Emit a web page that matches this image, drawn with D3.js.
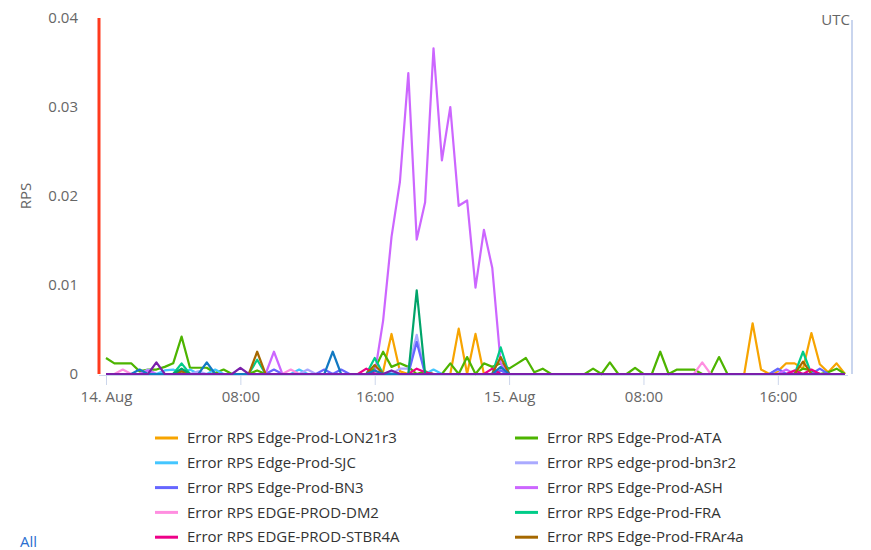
<!DOCTYPE html>
<html lang="en">
<head>
<meta charset="utf-8">
<title>Error RPS</title>
<script src="https://cdn.jsdelivr.net/npm/d3@7"></script>
<style>
  body { margin: 0; background: #fff; font-family: "Open Sans", "Noto Sans", sans-serif; }
  .axis text { fill: #666; font-size: 15px; font-family: "Open Sans", sans-serif; }
  .legend text { fill: #333; font-size: 15px; }
</style>
</head>
<body>
<div id="chart"></div>
<script>
// 30 minute samples from 14 Aug 00:00 UTC to 15 Aug 20:00 UTC
var startTime = Date.UTC(2019, 7, 14, 0, 0);
var stepMinutes = 30;
var yTicks = [0, 0.01, 0.02, 0.03, 0.04];

var lon21r3 = [
  0,0,0,0,0,0,0,0,0,0,
  0,0,0,0,0,0,0,0,0,0,
  0,0,0,0,0,0,0,0,0,0,
  0,0,0,0.0003,0.0045,0.0003,0,0,0,0,
  0,0,0.0051,0,0.0045,0,0,0,0,0,
  0,0,0,0,0,0,0,0,0,0,
  0,0,0,0,0,0,0,0,0,0,
  0,0,0,0,0,0,0,0.0057,0.0005,0,
  0.0003,0.0012,0.0012,0.0006,0.0046,0.0011,0.0002,0.0012,0];
var ata = [
  0.0018,0.0012,0.0012,0.0012,0.0003,0.0005,0.0005,0.0008,0.0012,0.0042,
  0.0007,0.0007,0.0007,0.0001,0.0005,0,0,0,0.0004,0,
  0,0,0,0,0,0,0,0,0,0,
  0,0,0.0006,0.0025,0.0008,0.0012,0.0008,0,0.0003,0,
  0,0.0012,0,0.0019,0,0.0012,0.0008,0.0012,0.0006,0.0012,
  0.0018,0.0002,0.0006,0,0,0,0,0,0.0006,0,
  0.0013,0,0,0.0007,0,0,0.0025,0,0.0005,0.0005,
  0.0005,0,0,0.0019,0,0,0,0,0,0,
  0,0,0,0.0006,0.0004,0,0.0002,0.0006,0];
var sjc = [
  0,0,0,0,0,0,0,0.0004,0.0005,0,
  0.0005,0,0,0.0005,0,0,0,0,0,0,
  0,0,0,0.0005,0,0,0,0,0,0,
  0,0,0,0,0.0003,0,0,0,0,0.0005,
  0,0,0,0,0,0,0,0.0004,0,0,
  0,0,0,0,0,0,0,0,0,0,
  0,0,0,0,0,0,0,0,0,0,
  0,0,0,0,0,0,0,0,0,0,
  0,0,0,0,0,0,0,0,0];
var bn3r2 = [
  0,0,0,0,0,0.0005,0,0,0,0,
  0,0.0003,0,0,0,0,0,0,0,0,
  0,0,0,0,0.0005,0,0,0,0,0,
  0,0,0,0,0,0.0006,0.0006,0.0044,0,0,
  0,0,0,0,0,0,0,0.0006,0,0,
  0,0,0,0,0,0,0,0,0,0,
  0,0,0,0,0,0,0,0,0,0,
  0,0,0,0,0,0,0,0,0,0,
  0.0005,0,0.0004,0,0,0,0,0,0];
var bn3 = [
  0,0,0,0,0,0,0,0,0,0.0005,
  0,0,0,0,0,0,0,0,0,0,
  0.0005,0,0,0,0,0,0.0005,0,0.0005,0,
  0,0,0,0,0,0,0,0.0036,0,0,
  0,0,0,0,0,0,0,0.0004,0,0,
  0,0,0,0,0,0,0,0,0,0,
  0,0,0,0,0,0,0,0,0,0,
  0,0,0,0,0,0,0,0,0,0,
  0.0006,0,0,0,0,0.0006,0,0,0];
var ash = [
  0,0,0,0,0,0.0004,0,0,0,0,
  0,0,0,0,0,0,0,0,0,0,
  0.0025,0,0,0,0,0,0,0,0,0,
  0,0,0,0.0060,0.0154,0.0216,0.0338,0.0151,0.0193,0.0366,
  0.0240,0.0300,0.0189,0.0195,0.0097,0.0162,0.0119,0.0012,0,0,
  0,0,0,0,0,0,0,0,0,0,
  0,0,0,0,0,0,0,0,0,0,
  0,0,0,0,0,0,0,0,0,0,
  0,0.0005,0,0,0,0,0,0,0];
var dm2 = [
  0,0,0.0005,0,0,0,0,0,0,0,
  0,0,0,0,0,0,0,0,0,0,
  0,0,0.0005,0,0,0,0,0,0,0,
  0,0,0,0,0,0,0,0,0,0,
  0,0,0,0,0,0,0,0,0,0,
  0,0,0,0,0,0,0,0,0,0,
  0,0,0,0,0,0,0,0,0,0,
  0,0.0013,0,0,0,0,0,0,0,0,
  0,0,0,0,0,0,0,0,0];
var fra = [
  0,0,0,0,0,0,0,0,0,0.0012,
  0,0,0,0,0,0,0,0,0.0016,0,
  0,0,0,0,0,0,0,0,0,0,
  0,0,0.0018,0,0,0,0,0,0,0,
  0,0,0,0,0,0,0,0.0030,0,0,
  0,0,0,0,0,0,0,0,0,0,
  0,0,0,0,0,0,0,0,0,0,
  0,0,0,0,0,0,0,0,0,0,
  0,0,0,0.0025,0,0,0,0,0];
var stbr4a = [
  0,0,0,0,0,0,0,0,0,0,
  0,0,0,0,0,0,0,0,0,0,
  0,0,0,0,0,0,0,0,0,0,
  0,0.0006,0,0,0,0,0,0.0006,0.0002,0,
  0,0,0,0,0,0,0.0006,0,0,0,
  0,0,0,0,0,0,0,0,0,0,
  0,0,0,0,0,0,0,0,0,0,
  0,0,0,0,0,0,0,0,0,0,
  0,0,0.0004,0,0.0005,0,0,0,0];
var frar4a = [
  0,0,0,0,0,0,0,0,0,0.0003,
  0,0,0,0,0,0,0,0,0.0025,0,
  0,0,0,0,0,0,0,0,0,0,
  0,0,0.0010,0,0,0,0,0,0,0,
  0,0,0,0,0,0,0,0.0019,0,0,
  0,0,0,0,0,0,0,0,0,0,
  0,0,0,0,0,0,0,0,0,0,
  0,0,0,0,0,0,0,0,0,0,
  0,0,0,0.0014,0,0,0,0,0];
// series drawn in the plot whose legend rows are scrolled out of view
var hiddenA = [
  0,0,0,0,0,0,0,0,0,0.0006,
  0,0,0,0,0,0,0,0,0,0,
  0,0,0,0,0,0,0,0,0,0,
  0,0,0,0,0,0,0,0.0094,0,0,
  0,0,0,0,0,0,0,0,0,0,
  0,0,0,0,0,0,0,0,0,0,
  0,0,0,0,0,0,0,0,0,0,
  0,0,0,0,0,0,0,0,0,0,
  0,0,0,0,0,0,0,0,0];
var hiddenB = [
  0,0,0,0,0.0005,0,0,0,0,0,
  0,0,0.0013,0,0,0,0,0,0,0,
  0,0,0,0,0,0,0,0.0025,0,0,
  0,0,0.0004,0,0,0,0,0,0,0,
  0,0,0,0,0,0,0,0.0008,0,0,
  0,0,0,0,0,0,0,0,0,0,
  0,0,0,0,0,0,0,0,0,0,
  0,0,0,0,0,0,0,0,0,0,
  0,0,0,0,0,0,0,0,0];
var hiddenC = [
  0,0,0,0,0,0,0.0013,0,0,0,
  0,0,0,0,0,0,0.0007,0,0,0,
  0,0,0,0,0,0,0,0,0,0,
  0,0,0,0,0.0004,0,0,0,0,0,
  0,0,0,0,0,0,0,0,0,0,
  0,0,0,0,0,0,0,0,0,0,
  0,0,0,0,0,0,0,0,0,0,
  0,0,0,0,0,0,0,0,0,0,
  0,0,0,0,0,0,0,0,0];

var seriesNames = [
  "Error RPS Edge-Prod-LON21r3", "Error RPS Edge-Prod-ATA",
  "Error RPS Edge-Prod-SJC", "Error RPS edge-prod-bn3r2",
  "Error RPS Edge-Prod-BN3", "Error RPS Edge-Prod-ASH",
  "Error RPS EDGE-PROD-DM2", "Error RPS Edge-Prod-FRA",
  "Error RPS EDGE-PROD-STBR4A", "Error RPS Edge-Prod-FRAr4a"];
var seriesValues = [lon21r3, ata, sjc, bn3r2, bn3, ash, dm2, fra, stbr4a, frar4a];
var seriesColors = ["#f7a400", "#4db400", "#44c6ff", "#aaaaff", "#6666ff",
                    "#cc66ff", "#ff8ee0", "#00cc88", "#ee0088", "#a56800"];
var hiddenValues = [hiddenA, hiddenB, hiddenC];
var hiddenColors = ["#00a46a", "#1279c2", "#7a1fab"];

var w = 871, h = 550;
var svg = d3.select("#chart").append("svg").attr("width", w).attr("height", h);

var times = lon21r3.map(function (d, i) { return new Date(startTime + i * stepMinutes * 60000); });

var xScale = d3.scaleUtc()
  .domain([times[0], times[times.length - 1]])
  .range([106, 845]);
var yScale = d3.scaleLinear().domain([0, 0.04]).range([374, 18]);

// y axis labels
var yAxis = d3.axisLeft(yScale)
  .tickValues(yTicks)
  .tickSize(0)
  .tickPadding(0)
  .tickFormat(function (d) { return d === 0 ? "0" : d3.format(".2f")(d); });
svg.append("g").attr("class", "axis").attr("transform", "translate(78,0)").call(yAxis)
  .call(function (g) { g.select(".domain").remove(); });

svg.append("text")
  .attr("transform", "translate(31,196)rotate(-90)")
  .attr("text-anchor", "middle")
  .attr("fill", "#666").attr("font-size", "15px")
  .text("RPS");

// x axis
var xAxis = d3.axisBottom(xScale)
  .ticks(d3.utcHour.every(8))
  .tickSize(10)
  .tickPadding(6)
  .tickFormat(function (d) {
    return d.getUTCHours() === 0 ? d.getUTCDate() + ". Aug" : d3.utcFormat("%H:%M")(d);
  });
var gx = svg.append("g").attr("class", "axis").attr("transform", "translate(0,375)").call(xAxis);
gx.select(".domain").attr("stroke", "#ccd6eb").attr("d", "M99,0.5H848");
gx.selectAll(".tick line").attr("stroke", "#ccd6eb");

// plot lines
var line = d3.line()
  .x(function (d, i) { return xScale(times[i]); })
  .y(function (d) { return yScale(d); });

var plot = svg.append("g").attr("fill", "none").attr("stroke-width", 2.2)
  .attr("stroke-linejoin", "round");
seriesValues.forEach(function (vals, k) {
  plot.append("path").attr("d", line(vals)).attr("stroke", seriesColors[k]);
});
hiddenValues.forEach(function (vals, k) {
  plot.append("path").attr("d", line(vals)).attr("stroke", hiddenColors[k]);
});

// markers at both ends of the plot
svg.append("line").attr("x1", 99).attr("x2", 99).attr("y1", 18).attr("y2", 374)
  .attr("stroke", "#ff3a1e").attr("stroke-width", 3);
svg.append("line").attr("x1", 852).attr("x2", 852).attr("y1", 20).attr("y2", 374)
  .attr("stroke", "#c9d5ee").attr("stroke-width", 2);
svg.append("text").attr("x", 850).attr("y", 25).attr("text-anchor", "end")
  .attr("fill", "#666").attr("font-size", "15px").text("UTC");

// legend, two columns
var legend = svg.append("g").attr("class", "legend");
seriesNames.forEach(function (name, k) {
  var col = k % 2, row = Math.floor(k / 2);
  var lx = col === 0 ? 155 : 515;
  var ly = 438 + row * 24.8;
  legend.append("line").attr("x1", lx).attr("x2", lx + 23).attr("y1", ly).attr("y2", ly)
    .attr("stroke", seriesColors[k]).attr("stroke-width", 3);
  legend.append("text").attr("x", lx + 32).attr("y", ly).attr("dy", "0.35em").text(name);
});

svg.append("text").attr("x", 20).attr("y", 547).attr("fill", "#2a6fd0")
  .attr("font-size", "15px").text("All");
</script>
</body>
</html>
